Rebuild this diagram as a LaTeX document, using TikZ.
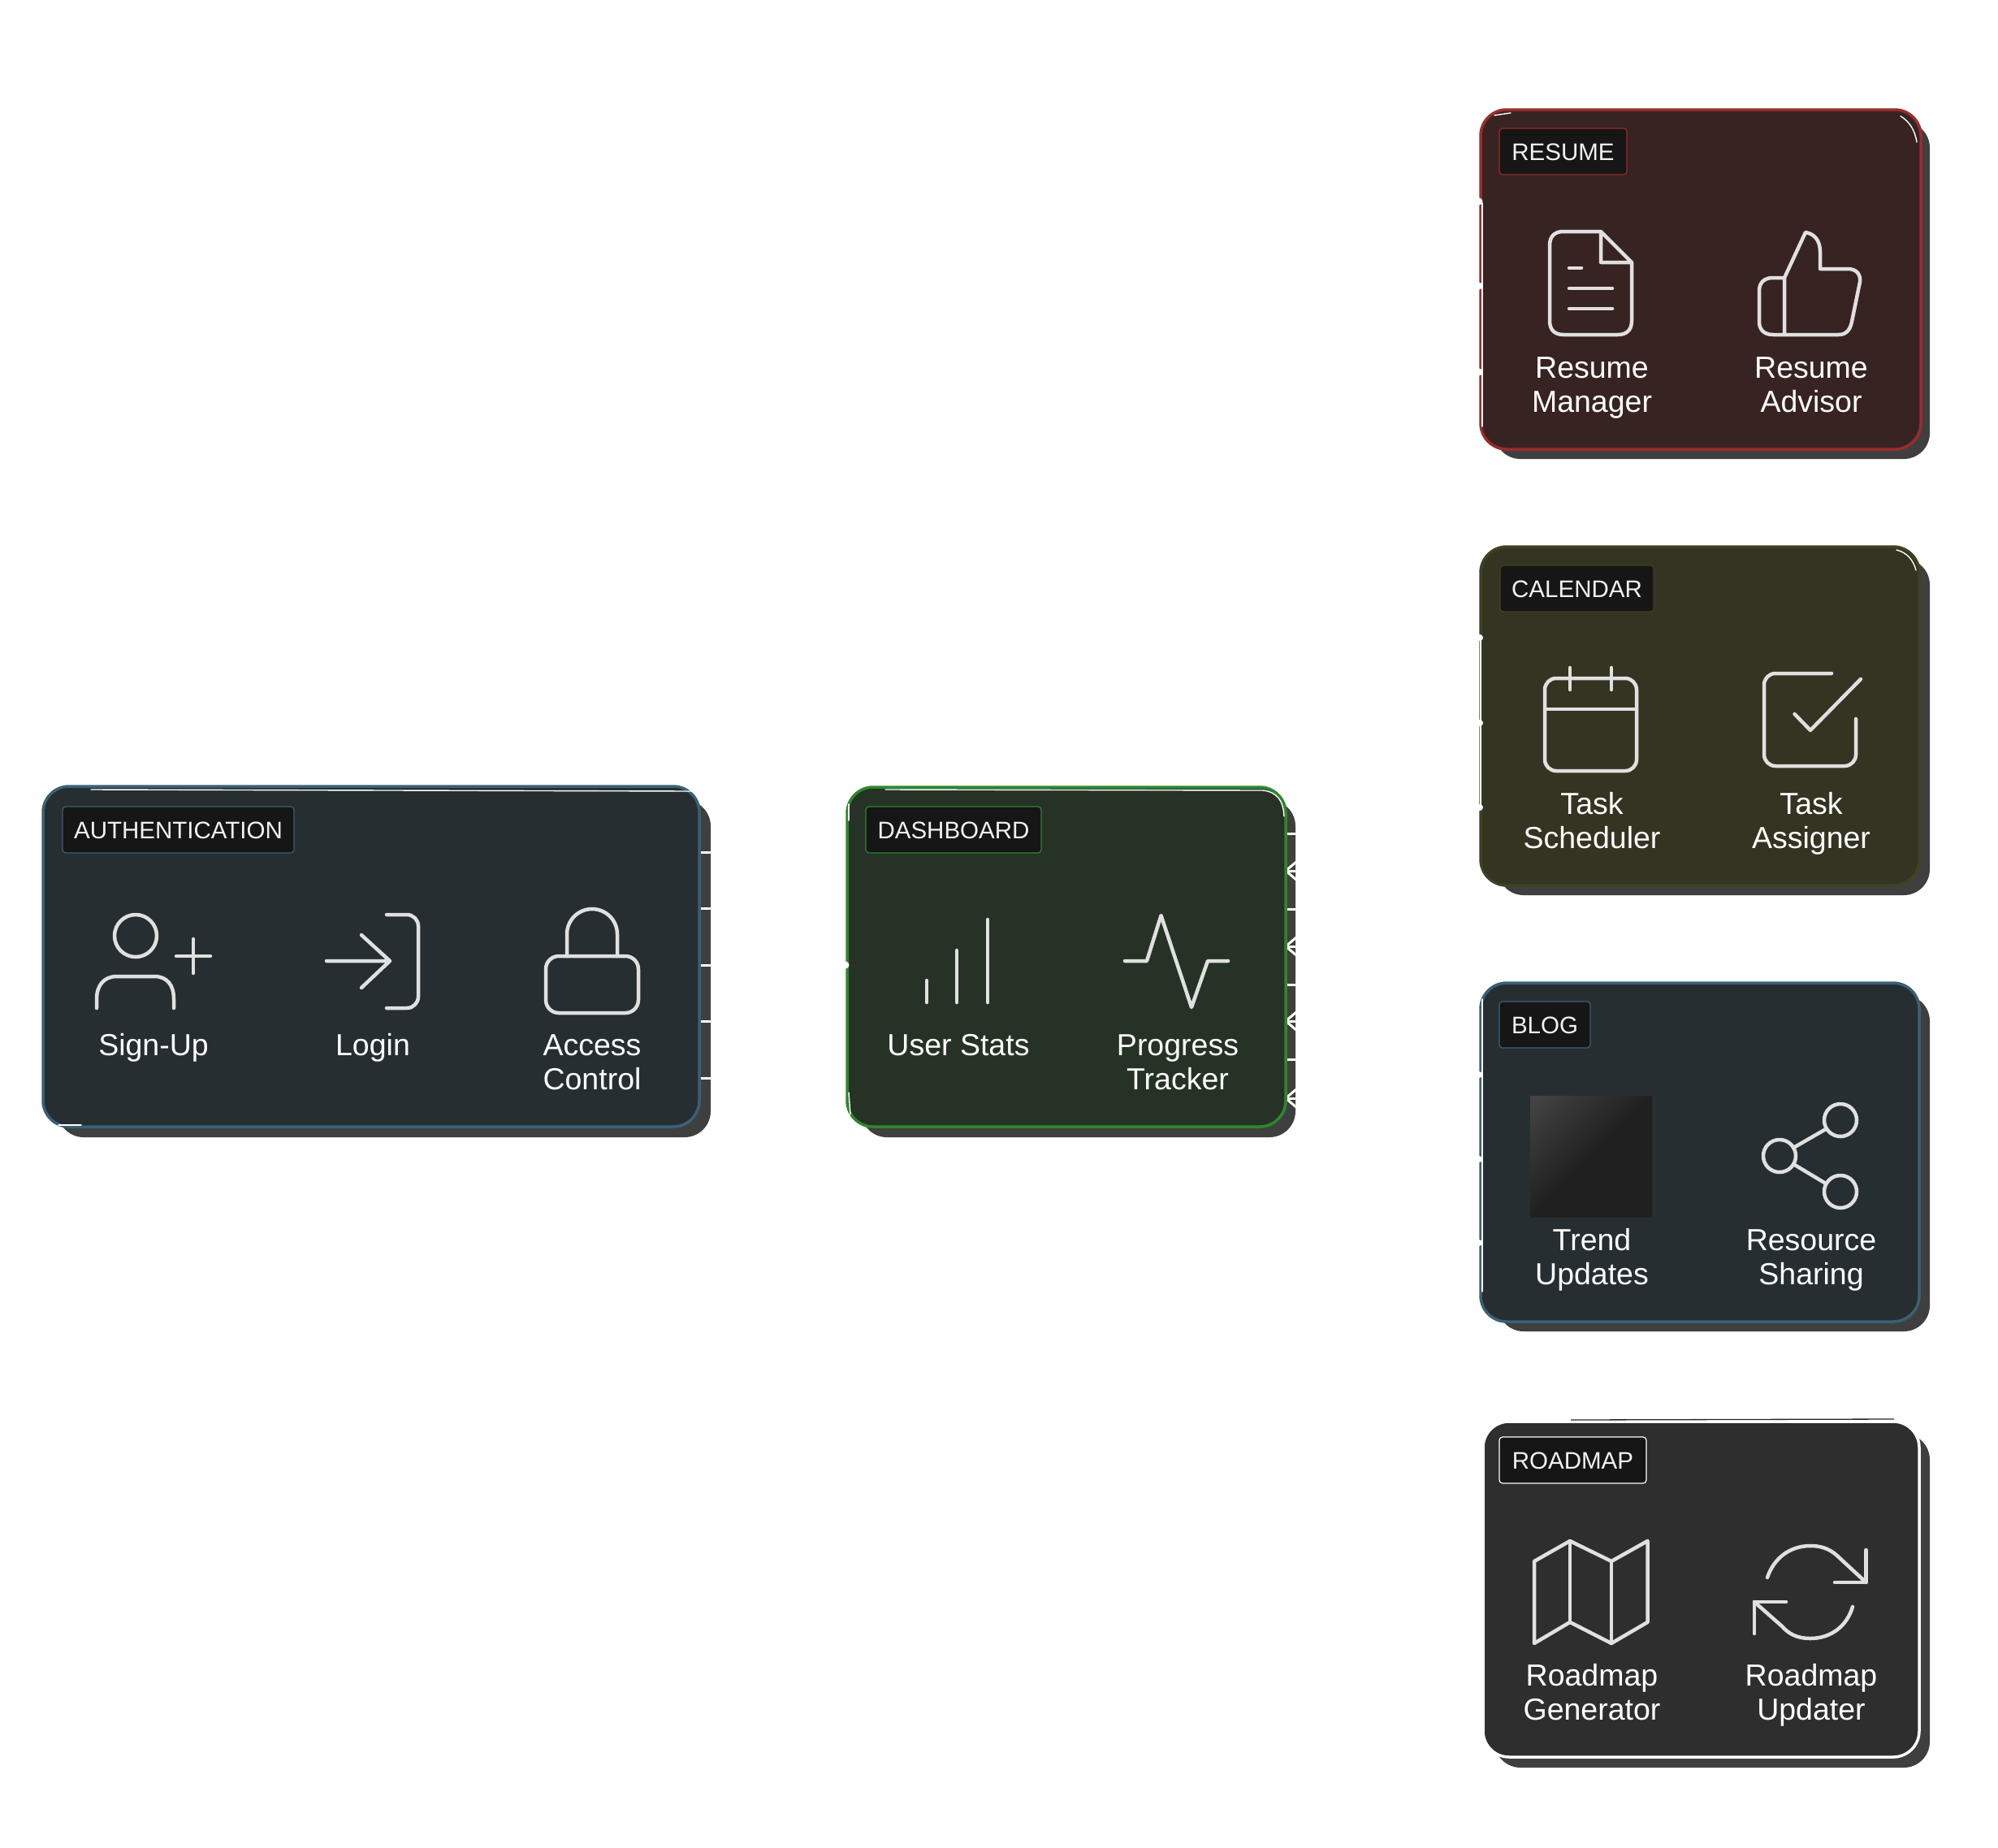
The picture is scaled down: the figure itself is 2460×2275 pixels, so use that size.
\documentclass[tikz,border=0pt]{standalone}
\usepackage{fontspec}
\setmainfont{Liberation Sans}
\definecolor{shadowc}{HTML}{3F3F3F}
\definecolor{iconc}{HTML}{E0E0E0}
\definecolor{tagc}{HTML}{161616}
\definecolor{authf}{HTML}{262E31}
\definecolor{auths}{HTML}{3A6175}
\definecolor{dashf}{HTML}{263226}
\definecolor{dashs}{HTML}{2E872E}
\definecolor{resf}{HTML}{372322}
\definecolor{ress}{HTML}{9A2C2C}
\definecolor{calf}{HTML}{333422}
\definecolor{cals}{HTML}{3F4222}
\definecolor{mapf}{HTML}{2E2E2E}
\definecolor{trendl}{HTML}{464646}
\definecolor{trendd}{HTML}{202020}
\pgfdeclareverticalshading{trendsh}{100bp}{color(0bp)=(trendd); color(50bp)=(trendd); color(86bp)=(trendl); color(100bp)=(trendl)}
\newcommand{\fl}{\rule{0pt}{30pt}}
\tikzset{
  x=1pt,y=-1pt,
  shadowbox/.style={rectangle,rounded corners=32pt,fill=shadowc,inner sep=0pt,outer sep=0pt},
  cardbox/.style={rectangle,rounded corners=32pt,line width=3.5pt,inner sep=0pt,outer sep=0pt},
  tagbox/.style={rectangle,rounded corners=4pt,anchor=north west,fill=tagc,line width=1.2pt,inner sep=0pt,outer sep=0pt,
    minimum height=57pt,text height=21pt,text depth=0pt,text=white!95!black,font=\fontsize{29.5}{34}\selectfont},
  itemtext/.style={anchor=north,align=center,inner sep=0pt,outer sep=0pt,text=white,font=\fontsize{37.5}{42}\selectfont},
  icon/.style={draw=iconc,line width=4.5pt,line cap=round,line join=round},
  stub/.style={draw=white,line width=3pt},
  sketch/.style={draw=white,line width=1.4pt,line cap=round},
  bump/.style={fill=white},
}
\begin{document}
\begin{tikzpicture}
\useasboundingbox (0,0) rectangle (2460,2275);
% shadows
\node[shadowbox,minimum width=804pt,minimum height=415pt] (authsh) at (473,1192.5) {};
\node[shadowbox,minimum width=535pt,minimum height=415pt] (dashsh) at (1327.5,1192.5) {};
\node[shadowbox,minimum width=536pt,minimum height=415pt] (ressh) at (2108,357.5) {};
\node[shadowbox,minimum width=532pt,minimum height=414pt] (calsh) at (2110,895) {};
\node[shadowbox,minimum width=532pt,minimum height=414pt] (blogsh) at (2110,1432) {};
\node[shadowbox,minimum width=536pt,minimum height=411pt] (mapsh) at (2108,1970.5) {};
% connector ends on the shadows
\foreach \yy in {1049,1118,1188,1257,1327}
  \draw[stub] (authsh.east |- 0,\yy) -- (861,\yy);
\foreach \yy in {1026,1119,1212,1304}
  \draw[stub] (dashsh.east |- 0,\yy) -- (1583,\yy);
\foreach \yy in {1072,1165,1257,1352} {
  \draw[stub] (dashsh.east |- 0,\yy) -- (1583,\yy);
  \draw[stub] (1596,\yy-11) -- (1583,\yy) -- (1596,\yy+11);
}
% cards
\node[cardbox,fill=authf,draw=auths,minimum width=808pt,minimum height=419pt] (auth) at (457,1177.5) {};
\node[cardbox,fill=dashf,draw=dashs,minimum width=540pt,minimum height=418pt] (dash) at (1313,1178) {};
\node[cardbox,fill=resf,draw=ress,minimum width=542pt,minimum height=418pt] (res) at (2094,344) {};
\node[cardbox,fill=calf,draw=cals,minimum width=540pt,minimum height=417pt] (cal) at (2093,881.5) {};
\node[cardbox,fill=authf,draw=auths,minimum width=540pt,minimum height=417pt] (blog) at (2093,1418.5) {};
\node[cardbox,fill=mapf,draw=white,minimum width=537pt,minimum height=413pt] (map) at (2094.5,1956.5) {};
% sketch strokes
\draw[sketch] (112,972) -- (853,974);
\draw[sketch] (72,1385) -- (100,1385);
\draw[sketch] (1090,972) -- (1555,973) .. controls (1572,975) and (1580,985) .. (1581,1005);
\draw[sketch] (1045,990) -- (1045,1010);
\draw[sketch] (1045,1345) -- (1047,1372);
\draw[sketch] (1840,142) -- (1860,139);
\draw[sketch] (1825,250) -- (1825,525);
\draw[sketch] (2340,143) .. controls (2352,150) and (2358,162) .. (2360,175);
\draw[sketch] (1823,785) -- (1823,994);
\draw[sketch] (2335,677) .. controls (2348,680) and (2356,690) .. (2359,702);
\draw[sketch] (1825,1230) -- (1825,1590);
\draw[draw=black!85,line width=1.3pt] (1934,1748) -- (2332,1747);
\draw[sketch] (1835,1750) -- (1860,1751);
% connector tips on the left edges
\foreach \yy in {248,352,458} \fill[bump] (res.west |- 0,\yy) ++(-2,0) circle (4.5);
\foreach \yy in {785,890,994} \fill[bump] (cal.west |- 0,\yy) ++(-1,0) circle (4);
\foreach \yy in {1323,1427,1530} \fill[bump] (blog.west |- 0,\yy) ++(-2,0) circle (4);
\fill[bump] (dash.west |- 0,1188) ++(-2,0) circle (4.5);
% tags
\node[tagbox,draw=auths,minimum width=285pt] (authtag) at (77,993) {AUTHENTICATION};
\node[tagbox,draw=dashs,minimum width=216pt] (dashtag) at (1066,993) {DASHBOARD};
\node[tagbox,draw=ress,minimum width=157pt] (restag) at (1846,158) {RESUME};
\node[tagbox,draw=cals,minimum width=189pt] (caltag) at (1847,696) {CALENDAR};
\node[tagbox,draw=auths,minimum width=112pt] (blogtag) at (1846,1233) {BLOG};
\node[tagbox,draw=white,minimum width=181pt] (maptag) at (1846,1769) {ROADMAP};
% item labels
\node[itemtext] (signup) at (189,1269) {\fl Sign-Up};
\node[itemtext] (login) at (459,1269) {\fl Login};
\node[itemtext] (access) at (729,1269) {\fl Access\\Control};
\node[itemtext] (stats) at (1180,1269) {\fl User Stats};
\node[itemtext] (progress) at (1450,1269) {\fl Progress\\Tracker};
\node[itemtext] (manager) at (1960,435) {\fl Resume\\Manager};
\node[itemtext] (advisor) at (2230,435) {\fl Resume\\Advisor};
\node[itemtext] (sched) at (1960,972.5) {\fl Task\\Scheduler};
\node[itemtext] (assign) at (2230,972.5) {\fl Task\\Assigner};
\node[itemtext] (trend) at (1960,1509) {\fl Trend\\Updates};
\node[itemtext] (share) at (2230,1509) {\fl Resource\\Sharing};
\node[itemtext] (gen) at (1960,2045) {\fl Roadmap\\Generator};
\node[itemtext] (upd) at (2230,2045) {\fl Roadmap\\Updater};
% sign-up icon
\path[icon] (167,1152) circle (26);
\path[icon] (217,1177) -- (259,1177) (238,1156) -- (238,1198);
\path[icon] (119,1241) -- (119,1230) .. controls (119,1213) and (128,1202) .. (144,1202) -- (190,1202) .. controls (206,1202) and (214,1213) .. (214,1230) -- (214,1241);
% login icon
\path[icon] (402,1183) -- (480,1183) (445,1151) -- (480,1183) -- (445,1216);
\path[icon,rounded corners=14pt] (476,1126) -- (515,1126) -- (515,1241) -- (476,1241);
% lock icon
\path[icon,rounded corners=16pt] (672,1177) rectangle (786,1247);
\path[icon] (698,1177) -- (698,1150) arc[start angle=180,end angle=360,radius=31] -- (760,1177);
% stats icon
\path[icon] (1141,1234) -- (1141,1207) (1178,1234) -- (1178,1170) (1216,1234) -- (1216,1132);
% progress icon
\path[icon] (1385,1183) -- (1412,1183) -- (1429.5,1127) -- (1467,1240) -- (1487,1183) -- (1512,1183);
% document icon
\path[icon] (1971,285) -- (1925,285) .. controls (1914,285) and (1908,291) .. (1908,302) -- (1908,395) .. controls (1908,406) and (1914,412) .. (1925,412) -- (1992,412) .. controls (2003,412) and (2009,406) .. (2009,395) -- (2009,323) -- (1971,285) -- (1971,323) -- (2009,323);
\path[icon] (1932,330) -- (1947,330) (1932,355) -- (1985,355) (1932,380) -- (1985,380);
% thumb icon
\path[icon] (2197,342) -- (2223,286) .. controls (2234,288) and (2241,296) .. (2241,310) -- (2241,331) -- (2275,331) .. controls (2286,331) and (2291,338) .. (2290,347) -- (2280,396) .. controls (2278,406) and (2273,412) .. (2264,412) -- (2183,412) .. controls (2172,412) and (2166,406) .. (2166,396) -- (2166,358) .. controls (2166,348) and (2172,342) .. (2183,342) -- (2197,342) -- (2197,412);
% calendar icon
\path[icon,rounded corners=14pt] (1902,835) rectangle (2015,949);
\path[icon] (1902,873) -- (2015,873) (1933,822) -- (1933,849) (1984,822) -- (1984,849);
% check icon
\path[icon,rounded corners=14pt] (2255,829) -- (2172,829) -- (2172,943) -- (2285,943) -- (2285,885);
\path[icon] (2209.5,879) -- (2229,899) -- (2291,836);
% trend placeholder
\shade[shading=trendsh,shading angle=45] (1884,1349) rectangle (2034,1498);
% share icon
\path[icon] (2266,1379) circle (20) (2191,1423) circle (20) (2266,1467) circle (20);
\path[icon] (2208,1413) -- (2248,1390) (2208,1433) -- (2248,1457);
% map icon
\path[icon] (1889,1922) -- (1933,1897) -- (1984,1922) -- (2028.5,1897) -- (2028.5,1997) -- (1984,2023) -- (1933,1997) -- (1889,2023) -- cycle;
\path[icon] (1933,1897) -- (1933,1997) (1984,1922) -- (1984,2023);
% sync icon
\path[icon] (2176,1942) .. controls (2184,1918) and (2204,1903) .. (2229,1903) .. controls (2246,1903) and (2256,1909) .. (2265,1918) -- (2297.5,1948);
\path[icon] (2297.5,1908) -- (2297.5,1948) -- (2259,1948);
\path[icon] (2281,1978) .. controls (2274,2002) and (2254,2017) .. (2229,2017) .. controls (2212,2017) and (2202,2011) .. (2194,2002) -- (2160,1972);
\path[icon] (2199,1972) -- (2160,1972) -- (2160,2011);
\end{tikzpicture}
\end{document}
